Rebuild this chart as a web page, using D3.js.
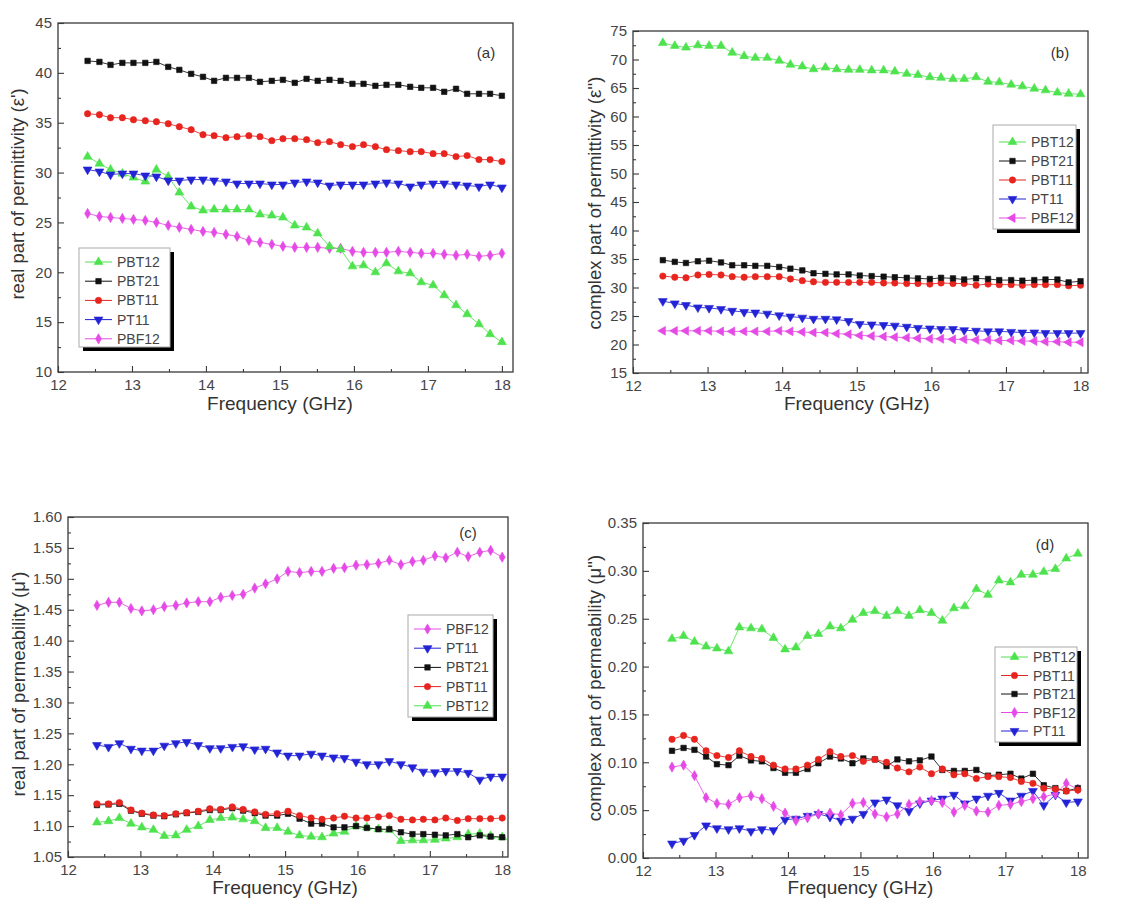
<!DOCTYPE html>
<html><head><meta charset="utf-8">
<script src="https://cdn.jsdelivr.net/npm/d3@7"></script>
<style>body{margin:0;background:#fff}svg{display:block}</style>
</head><body>
<svg id="c" width="1140" height="903"></svg>
<script>
// ---------------- DATA ----------------
const freq = [12.40,12.56,12.71,12.87,13.02,13.18,13.33,13.49,13.64,13.80,13.96,14.11,14.27,14.42,14.58,14.73,14.89,15.04,15.20,15.36,15.51,15.67,15.82,15.98,16.13,16.29,16.44,16.60,16.76,16.91,17.07,17.22,17.38,17.53,17.69,17.84,18.00];
const xTickValues = [12,13,14,15,16,17,18];
const seriesNames = ["PBT12","PBT21","PBT11","PT11","PBF12"];

// (a) real part of permittivity
const a_PBT12 = [31.6,30.9,30.3,29.9,29.5,29.1,30.3,29.6,28.0,26.6,26.2,26.3,26.3,26.3,26.3,25.8,25.7,25.5,24.7,24.5,23.9,22.6,22.3,20.6,20.7,20.0,20.9,20.1,19.9,19.0,18.7,17.7,16.7,15.8,14.8,13.8,13.0];
const a_PBT21 = [41.2,41.1,40.8,41.0,41.0,41.0,41.1,40.6,40.3,39.9,39.6,39.2,39.5,39.5,39.5,39.1,39.2,39.3,39.0,39.4,39.2,39.3,39.2,38.9,38.9,38.7,38.8,38.8,38.6,38.5,38.5,38.1,38.4,37.9,37.9,37.9,37.7];
const a_PBT11 = [35.9,35.8,35.5,35.5,35.3,35.2,35.1,34.9,34.6,34.3,33.8,33.7,33.5,33.6,33.7,33.6,33.2,33.4,33.4,33.3,33.0,33.1,32.8,32.6,32.8,32.6,32.3,32.2,32.1,32.1,31.9,31.9,31.6,31.7,31.3,31.3,31.1];
const a_PT11  = [30.3,30.1,29.8,29.9,29.9,29.7,29.6,29.2,29.2,29.3,29.3,29.2,29.1,28.9,28.9,28.9,28.8,28.8,29.0,29.1,29.0,28.7,28.8,28.8,28.8,28.9,29.0,28.9,28.6,28.8,28.9,28.9,28.8,28.7,28.6,28.8,28.5];
const a_PBF12 = [25.9,25.6,25.5,25.4,25.3,25.2,25.0,24.7,24.5,24.3,24.1,24.0,23.8,23.6,23.2,23.0,22.8,22.6,22.5,22.5,22.5,22.4,22.4,22.1,22.0,22.0,22.0,22.1,22.0,21.9,21.9,21.8,21.7,21.8,21.6,21.7,21.9];
const a_yTicks = [10,15,20,25,30,35,40,45];

// (b) complex part of permittivity
const b_PBT12 = [72.9,72.4,72.1,72.5,72.4,72.4,71.2,70.6,70.3,70.3,69.8,69.1,68.8,68.3,68.6,68.3,68.2,68.2,68.1,68.1,67.9,67.5,67.3,66.9,66.8,66.6,66.6,66.9,66.1,66.0,65.6,65.3,64.9,64.6,64.2,64.0,63.9];
const b_PBT21 = [34.8,34.5,34.3,34.6,34.7,34.4,33.9,33.9,33.8,33.8,33.6,33.3,33.0,32.5,32.4,32.3,32.3,32.1,32.0,31.9,31.8,31.7,31.6,31.5,31.7,31.6,31.4,31.6,31.5,31.3,31.3,31.2,31.3,31.4,31.4,30.9,31.1];
const b_PBT11 = [32.0,31.8,31.7,32.2,32.3,32.2,31.9,31.8,31.9,31.9,31.9,31.5,31.2,31.0,30.9,30.9,30.9,30.9,30.9,30.8,30.8,30.7,30.7,30.6,30.8,30.7,30.7,30.4,30.6,30.5,30.5,30.4,30.5,30.5,30.5,30.3,30.4];
const b_PT11  = [27.6,27.2,26.9,26.5,26.4,26.2,25.9,25.7,25.6,25.4,25.1,24.9,24.7,24.5,24.5,24.4,24.1,23.6,23.5,23.4,23.3,23.1,22.9,22.8,22.7,22.7,22.5,22.4,22.3,22.3,22.2,22.1,22.1,22.0,22.0,22.0,22.0];
const b_PBF12 = [22.4,22.4,22.4,22.4,22.4,22.3,22.3,22.3,22.3,22.3,22.4,22.3,22.2,22.1,22.1,21.9,21.8,21.6,21.5,21.4,21.3,21.2,21.1,21.0,21.0,20.9,20.9,20.8,20.8,20.7,20.7,20.6,20.6,20.5,20.5,20.4,20.4];
const b_yTicks = [15,20,25,30,35,40,45,50,55,60,65,70,75];

// (c) real part of permeability
const c_PBF12 = [1.457,1.462,1.462,1.452,1.448,1.450,1.455,1.457,1.461,1.463,1.463,1.470,1.473,1.475,1.485,1.492,1.500,1.512,1.510,1.512,1.512,1.517,1.518,1.522,1.523,1.525,1.530,1.523,1.528,1.530,1.537,1.534,1.543,1.536,1.543,1.546,1.535];
const c_PT11  = [1.231,1.228,1.234,1.225,1.222,1.222,1.230,1.234,1.236,1.231,1.226,1.226,1.228,1.229,1.224,1.225,1.219,1.214,1.214,1.217,1.214,1.211,1.210,1.204,1.200,1.200,1.205,1.200,1.195,1.188,1.187,1.189,1.189,1.186,1.175,1.180,1.180];
const c_PBT21 = [1.134,1.135,1.136,1.125,1.120,1.117,1.116,1.119,1.121,1.123,1.126,1.126,1.129,1.125,1.121,1.117,1.117,1.120,1.112,1.104,1.104,1.098,1.098,1.100,1.097,1.095,1.095,1.090,1.087,1.087,1.086,1.085,1.087,1.082,1.085,1.083,1.082];
const c_PBT11 = [1.136,1.136,1.138,1.126,1.121,1.118,1.117,1.120,1.122,1.124,1.128,1.127,1.131,1.127,1.123,1.119,1.120,1.124,1.117,1.113,1.111,1.113,1.116,1.113,1.113,1.115,1.117,1.111,1.110,1.111,1.110,1.113,1.109,1.112,1.112,1.112,1.113];
const c_PBT12 = [1.106,1.108,1.113,1.104,1.098,1.094,1.084,1.085,1.094,1.100,1.110,1.113,1.114,1.111,1.108,1.097,1.097,1.091,1.085,1.083,1.082,1.088,1.091,1.100,1.098,1.095,1.094,1.076,1.077,1.077,1.078,1.080,1.082,1.087,1.088,1.084,1.082];
const c_yTicks = [1.05,1.10,1.15,1.20,1.25,1.30,1.35,1.40,1.45,1.50,1.55,1.60];

// (d) complex part of permeability
const d_PBT12 = [0.229,0.232,0.226,0.221,0.219,0.216,0.241,0.240,0.239,0.230,0.218,0.220,0.232,0.234,0.242,0.240,0.249,0.256,0.258,0.253,0.258,0.253,0.259,0.256,0.248,0.261,0.263,0.281,0.275,0.290,0.288,0.296,0.296,0.299,0.302,0.313,0.318];
const d_PBT11 = [0.124,0.128,0.124,0.112,0.107,0.105,0.112,0.106,0.104,0.097,0.093,0.093,0.097,0.103,0.111,0.106,0.107,0.101,0.103,0.100,0.094,0.090,0.095,0.088,0.093,0.087,0.088,0.083,0.085,0.085,0.084,0.080,0.078,0.073,0.072,0.070,0.071];
const d_PBT21 = [0.112,0.115,0.113,0.106,0.098,0.097,0.107,0.102,0.101,0.094,0.089,0.089,0.093,0.099,0.106,0.104,0.099,0.104,0.103,0.096,0.103,0.101,0.102,0.106,0.092,0.091,0.091,0.092,0.086,0.087,0.088,0.083,0.088,0.076,0.073,0.070,0.073];
const d_PBF12 = [0.095,0.097,0.086,0.063,0.057,0.056,0.063,0.065,0.062,0.054,0.047,0.039,0.042,0.046,0.047,0.045,0.057,0.058,0.046,0.043,0.046,0.056,0.059,0.060,0.058,0.048,0.055,0.049,0.048,0.055,0.056,0.059,0.062,0.064,0.067,0.078,0.072];
const d_PT11  = [0.015,0.018,0.024,0.034,0.031,0.030,0.031,0.028,0.030,0.029,0.040,0.041,0.044,0.046,0.043,0.039,0.041,0.046,0.058,0.061,0.055,0.049,0.057,0.060,0.062,0.066,0.057,0.062,0.065,0.068,0.060,0.065,0.070,0.055,0.066,0.058,0.059];
const d_yTicks = [0.00,0.05,0.10,0.15,0.20,0.25,0.30,0.35];

// ---------------- STYLE ----------------
const colors = {PBT12:"#4ee34e", PBT21:"#111111", PBT11:"#e8241f", PT11:"#2323d6", PBF12:"#e64ae6"};
const baseSymbols = {PBT12:"up", PBT21:"square", PBT11:"circle", PT11:"down", PBF12:"diamond"};
const FONT = "'Liberation Sans', Arial, sans-serif";

const svg = d3.select("#c");

function symPath(kind){
  if(kind==="square") return d3.symbol(d3.symbolSquare, 30)();
  if(kind==="circle") return d3.symbol(d3.symbolCircle, 32)();
  if(kind==="diamond") return d3.symbol(d3.symbolDiamond, 30)();
  return d3.symbol(d3.symbolTriangle, 34)();
}
function drawMarker(g, kind, cx, cy, color){
  const rot = kind==="down" ? " rotate(180)" : (kind==="left" ? " rotate(-90)" : "");
  g.append("path").attr("d", symPath(kind))
   .attr("transform", `translate(${cx},${cy})` + rot)
   .attr("fill", color).attr("stroke", color).attr("stroke-width", 0.6);
}

function panel(cfg){
  const symbolFor = Object.assign({}, baseSymbols, cfg.symbols || {});
  const x = d3.scaleLinear().domain([12, cfg.xMax]).range([cfg.left, cfg.right]);
  const y = d3.scaleLinear().domain(cfg.yDomain).range([cfg.bottom, cfg.top]);
  const g = svg.append("g");

  // series
  cfg.drawOrder.forEach(name => {
    const vals = cfg.data[name];
    const pts = freq.map((f,i)=>[f, vals[i]]);
    g.append("path").datum(pts)
      .attr("d", d3.line().x(d=>x(d[0])).y(d=>y(d[1])))
      .attr("fill","none").attr("stroke", colors[name]).attr("stroke-width", 1).attr("opacity",0.85);
    const mg = g.append("g");
    pts.forEach(p => drawMarker(mg, symbolFor[name], x(p[0]), y(p[1]), colors[name]));
  });

  // frame
  g.append("rect").attr("x",cfg.left).attr("y",cfg.top)
    .attr("width",cfg.right-cfg.left).attr("height",cfg.bottom-cfg.top)
    .attr("fill","none").attr("stroke","#3a3a3a").attr("stroke-width",1.3);

  // x axis
  const xMinor = [12.5,13.5,14.5,15.5,16.5,17.5];
  const xa = g.append("g").attr("transform",`translate(0,${cfg.bottom})`)
    .call(d3.axisBottom(x).tickValues(xTickValues).tickSize(-6).tickPadding(7).tickFormat(d3.format("d")));
  const xm = g.append("g").attr("transform",`translate(0,${cfg.bottom})`)
    .call(d3.axisBottom(x).tickValues(xMinor).tickSize(-3).tickFormat(""));
  // y axis
  const step = cfg.yTicks[1]-cfg.yTicks[0];
  const yMinor = cfg.yTicks.slice(0,-1).map(v=>v+step/2);
  const ya = g.append("g").attr("transform",`translate(${cfg.left},0)`)
    .call(d3.axisLeft(y).tickValues(cfg.yTicks).tickSize(-6).tickPadding(6).tickFormat(d3.format(cfg.yFmt)));
  const ym = g.append("g").attr("transform",`translate(${cfg.left},0)`)
    .call(d3.axisLeft(y).tickValues(yMinor).tickSize(-3).tickFormat(""));
  [xa,xm,ya,ym].forEach(a=>{
    a.select(".domain").remove();
    a.selectAll("line").attr("stroke","#3a3a3a").attr("stroke-width",1.1);
    a.selectAll("text").attr("font-family",FONT).attr("font-size",15).attr("fill","#444");
  });

  // titles
  g.append("text").attr("x",(x(12)+x(18))/2).attr("y",cfg.xTitleY)
    .attr("text-anchor","middle").attr("font-family",FONT).attr("font-size",19).attr("fill","#333")
    .text("Frequency (GHz)");
  g.append("text").attr("transform",`translate(${cfg.yTitleX},${cfg.yTitleY}) rotate(-90)`)
    .attr("text-anchor","middle").attr("font-family",FONT).attr("font-size",18.5).attr("fill","#333")
    .text(cfg.yTitle);
  g.append("text").attr("x",cfg.tagX).attr("y",cfg.tagY).attr("text-anchor","middle")
    .attr("font-family",FONT).attr("font-size",15).attr("fill","#333").text(cfg.tag);

  // legend
  const L = cfg.legend;
  const lg = svg.append("g");
  lg.append("rect").attr("x",L.x+4).attr("y",L.y+4).attr("width",L.w).attr("height",L.h).attr("fill","#000");
  lg.append("rect").attr("x",L.x).attr("y",L.y).attr("width",L.w).attr("height",L.h)
    .attr("fill","#fff").attr("stroke","#aaa").attr("stroke-width",1);
  L.order.forEach((name,i)=>{
    const yy = L.row0 + i*L.dy;
    lg.append("line").attr("x1",L.x+6).attr("x2",L.x+33).attr("y1",yy).attr("y2",yy)
      .attr("stroke",colors[name]).attr("stroke-width",1);
    drawMarker(lg, symbolFor[name], L.x+19.5, yy, colors[name]);
    lg.append("text").attr("x",L.x+38).attr("y",yy+5).attr("font-family",FONT)
      .attr("font-size",14).attr("fill","#444").text(name);
  });
}

panel({
  left:58, right:513, top:23, bottom:372, xMax:18.15, yDomain:[10,45], yTicks:a_yTicks, yFmt:"d",
  data:{PBT12:a_PBT12,PBT21:a_PBT21,PBT11:a_PBT11,PT11:a_PT11,PBF12:a_PBF12},
  drawOrder:["PBF12","PBT12","PT11","PBT11","PBT21"],
  xTitleY:410, yTitleX:24, yTitleY:194, yTitle:"real part of permittivity (\u03b5')",
  tag:"(a)", tagX:486, tagY:58,
  legend:{x:79,y:248,w:91,h:99,row0:262,dy:19.2,order:["PBT12","PBT21","PBT11","PT11","PBF12"]}
});
panel({
  left:633, right:1088, top:31, bottom:373, xMax:18.1, yDomain:[15,75], yTicks:b_yTicks, yFmt:"d",
  data:{PBT12:b_PBT12,PBT21:b_PBT21,PBT11:b_PBT11,PT11:b_PT11,PBF12:b_PBF12},
  symbols:{PBF12:"left"},
  drawOrder:["PBF12","PT11","PBT11","PBT21","PBT12"],
  xTitleY:410, yTitleX:601, yTitleY:203, yTitle:"complex part of permittivity (\u03b5'')",
  tag:"(b)", tagX:1060, tagY:58,
  legend:{x:993,y:125,w:83,h:104,row0:142,dy:19,order:["PBT12","PBT21","PBT11","PT11","PBF12"]}
});
panel({
  left:68, right:508, top:517, bottom:857, xMax:18.08, yDomain:[1.05,1.60], yTicks:c_yTicks, yFmt:".2f",
  data:{PBT12:c_PBT12,PBT21:c_PBT21,PBT11:c_PBT11,PT11:c_PT11,PBF12:c_PBF12},
  drawOrder:["PBT12","PBT21","PBT11","PT11","PBF12"],
  xTitleY:894, yTitleX:25, yTitleY:684, yTitle:"real part of permeability (\u03bc')",
  tag:"(c)", tagX:468, tagY:538,
  legend:{x:408,y:615,w:85,h:102,row0:629,dy:19.2,order:["PBF12","PT11","PBT21","PBT11","PBT12"]}
});
panel({
  left:643, right:1088, top:523, bottom:858, xMax:18.14, yDomain:[0,0.35], yTicks:d_yTicks, yFmt:".2f",
  data:{PBT12:d_PBT12,PBT21:d_PBT21,PBT11:d_PBT11,PT11:d_PT11,PBF12:d_PBF12},
  drawOrder:["PT11","PBF12","PBT21","PBT11","PBT12"],
  xTitleY:894, yTitleX:601, yTitleY:688, yTitle:"complex part of permeability (\u03bc'')",
  tag:"(d)", tagX:1045, tagY:550,
  legend:{x:995,y:647,w:82,h:95,row0:657,dy:18.5,order:["PBT12","PBT11","PBT21","PBF12","PT11"]}
});
</script>
</body></html>
